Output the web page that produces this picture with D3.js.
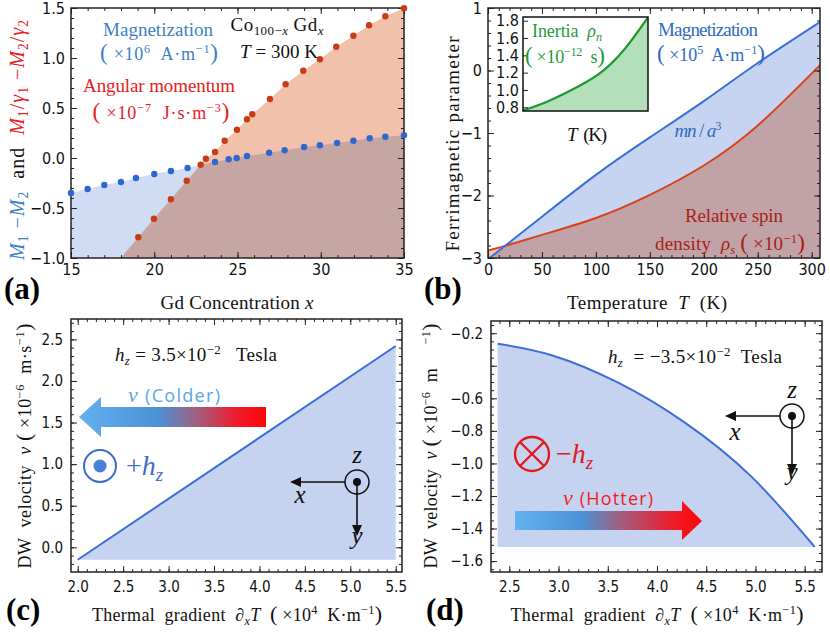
<!DOCTYPE html>
<html>
<head>
<meta charset="utf-8">
<script src="https://cdn.jsdelivr.net/npm/d3@7"></script>
<style>
  body { margin: 0; background: #fff; }
  svg { display: block; }
  text { font-family: "Liberation Serif", "Times New Roman", serif; }
</style>
</head>
<body>
<svg id="fig" width="830" height="632"></svg>
<script>
// ---- data ----
// (a) Co100-x Gdx at 300 K
const gdMagX = [15, 16, 17, 18, 18.9, 20, 21, 22, 23.65, 24.47, 24.95, 25.57, 26.9, 27.83, 29.0, 29.95, 30.98, 31.96, 32.94, 33.88, 35];
const gdMag  = [-0.35, -0.31, -0.27, -0.24, -0.20, -0.16, -0.13, -0.10, -0.04, -0.013, 0.0, 0.02, 0.053, 0.077, 0.11, 0.127, 0.15, 0.173, 0.197, 0.213, 0.227];
const gdAngX = [19.04, 19.98, 21.0, 21.95, 22.79, 23.1, 23.65, 24.23, 24.97, 25.57, 25.89, 26.95, 27.89, 28.95, 29.95, 30.93, 31.96, 32.9, 33.88, 35];
const gdAng  = [-0.793, -0.607, -0.413, -0.227, -0.067, -0.007, 0.06, 0.173, 0.283, 0.387, 0.437, 0.59, 0.737, 0.873, 0.987, 1.113, 1.223, 1.327, 1.417, 1.497];
// (b) ferrimagnetic parameters vs temperature
const magT  = [0, 50, 100, 150, 200, 250, 308];
const magB  = [-3.02, -2.34, -1.67, -1.07, -0.49, 0.12, 0.78];
const spinT = [0, 25, 50, 100, 150, 200, 250, 308];
const spinB = [-2.88, -2.76, -2.63, -2.36, -1.99, -1.52, -0.88, 0.09];
const inertiaT = [0, 62, 144, 197, 250, 308];
const inertia  = [0.765, 0.87, 1.06, 1.22, 1.47, 1.84];
// (c) DW velocity, +hz
const gradC = [2.0, 5.5];
const velC  = [-0.15, 2.42];
// (d) DW velocity, -hz
const gradD = [2.382, 2.93, 3.606, 4.283, 4.959, 5.602];
const velD  = [-0.265, -0.335, -0.504, -0.749, -1.081, -1.513];
// tick labels
const aXTicks = [15, 20, 25, 30, 35];
const aYTicks = [-1, -0.5, 0, 0.5, 1, 1.5];
const bXTicks = [0, 50, 100, 150, 200, 250, 300];
const bYTicks = [-3, -2, -1, 0, 1];
const inYTicks = [0.8, 1.0, 1.2, 1.4, 1.6, 1.8];
const cXTicks = [2.0, 2.5, 3.0, 3.5, 4.0, 4.5, 5.0, 5.5];
const cYTicks = [0.0, 0.5, 1.0, 1.5, 2.0, 2.5];
const dXTicks = [2.5, 3.0, 3.5, 4.0, 4.5, 5.0, 5.5];
const dYMajor = [-1.6, -1.4, -1.2, -1.0, -0.8, -0.6, -0.4, -0.2];
const dYTicks = [-1.6, -1.4, -1.2, -1.0, -0.8, -0.6, -0.2];

const TICKF = '"DejaVu Sans Condensed", "DejaVu Sans", sans-serif';
const svg = d3.select("#fig");
const defs = svg.append("defs");

// steps for minor ticks
function steps(a, b, s) {
    let out = [];
    for (let v = a; v <= b + 1e-9; v += s) out.push(+v.toFixed(4));
    return out;
}

function clipFor(id, x, y) {
    defs.append("clipPath").attr("id", id).append("rect")
        .attr("x", x.range()[0]).attr("y", y.range()[1])
        .attr("width", x.range()[1] - x.range()[0])
        .attr("height", y.range()[0] - y.range()[1]);
}

// frame with inward ticks on all four sides (Mathematica style)
function frame(g, x, y, o) {
    const [xa, xb] = x.range(), [yb, ya] = y.range();
    const put = (axis, tr) => g.append("g").attr("transform", tr).call(axis).call(s => {
        s.select(".domain").remove();
        s.attr("font-family", null).attr("font-size", null);
        s.selectAll("line").attr("stroke", "#222").attr("stroke-width", 1);
        s.selectAll("text").attr("fill", "#111").style("font-family", TICKF)
            .style("font-stretch", "condensed").attr("font-size", o.fs);
    });
    const none = () => "";
    put(d3.axisBottom(x).tickValues(o.xMinor).tickSize(-3).tickFormat(none), `translate(0,${yb})`);
    put(d3.axisTop(x).tickValues(o.xMinor).tickSize(-3).tickFormat(none), `translate(0,${ya})`);
    put(d3.axisLeft(y).tickValues(o.yMinor).tickSize(-3).tickFormat(none), `translate(${xa},0)`);
    put(d3.axisRight(y).tickValues(o.yMinor).tickSize(-3).tickFormat(none), `translate(${xb},0)`);
    put(d3.axisBottom(x).tickValues(o.xMajor).tickSize(-6).tickPadding(o.xPad).tickFormat(o.xFmt), `translate(0,${yb})`);
    put(d3.axisTop(x).tickValues(o.xMajor).tickSize(-6).tickFormat(none), `translate(0,${ya})`);
    put(d3.axisLeft(y).tickValues(o.yMajor).tickSize(-6).tickPadding(o.yPad).tickFormat(o.yFmt), `translate(${xa},0)`);
    put(d3.axisRight(y).tickValues(o.yMajor).tickSize(-6).tickFormat(none), `translate(${xb},0)`);
    g.append("rect").attr("x", xa).attr("y", ya).attr("width", xb - xa).attr("height", yb - ya)
        .attr("fill", "none").attr("stroke", "#222").attr("stroke-width", 1.5);
}

// text built from pieces: italic, sub, sup, colour
function rich(g, x, y, parts, o = {}) {
    const fs = o.fs || 18;
    const t = g.append("text").attr("x", x).attr("y", y).attr("font-size", fs)
        .attr("fill", o.fill || "#111").attr("text-anchor", o.anchor || "start")
        .attr("xml:space", "preserve").style("white-space", "pre");
    if (o.rot) t.attr("transform", `rotate(-90,${x},${y})`);
    if (o.family) t.style("font-family", o.family);
    parts.forEach(p => {
        if (typeof p === "string") p = { t: p };
        const s = t.append("tspan").text(p.t);
        if (p.i) s.attr("font-style", "italic");
        if (p.b) s.attr("font-weight", "bold");
        if (p.c) s.attr("fill", p.c);
        if (p.f) s.style("font-family", p.f);
        if (p.fs) s.attr("font-size", p.fs);
        if (p.sub) s.attr("baseline-shift", -0.22 * fs).attr("font-size", fs * 0.68);
        if (p.sup) s.attr("baseline-shift", 0.38 * fs).attr("font-size", fs * 0.68);
    });
    // stretch the spacing to the width measured on the figure
    if (o.len) t.attr("textLength", o.len).attr("lengthAdjust", "spacing");
    return t;
}

function panelLabel(x, y, s) {
    svg.append("text").attr("x", x).attr("y", y).attr("font-size", 31)
        .attr("font-weight", "bold").text(s);
}

// small coordinate triad (z out of page)
function triad(g, cx, cy, left, down, lab) {
    const k = "#111";
    g.append("line").attr("x1", cx - 12).attr("y1", cy).attr("x2", left + 9).attr("y2", cy)
        .attr("stroke", k).attr("stroke-width", 1.6);
    g.append("path").attr("d", `M${left},${cy} L${left + 11},${cy - 5} L${left + 11},${cy + 5} Z`).attr("fill", k);
    g.append("line").attr("x1", cx).attr("y1", cy).attr("x2", cx).attr("y2", down - 9)
        .attr("stroke", k).attr("stroke-width", 1.6);
    g.append("path").attr("d", `M${cx},${down} L${cx - 5},${down - 11} L${cx + 5},${down - 11} Z`).attr("fill", k);
    g.append("circle").attr("cx", cx).attr("cy", cy).attr("r", 12).attr("fill", "none")
        .attr("stroke", k).attr("stroke-width", 1.5);
    g.append("circle").attr("cx", cx).attr("cy", cy).attr("r", 4).attr("fill", k);
    const it = (x, y, s) => g.append("text").attr("x", x).attr("y", y).attr("font-size", 25)
        .attr("font-style", "italic").attr("text-anchor", "middle").attr("fill", k).text(s);
    it(cx, lab.z, "z");
    it(left + 10, lab.x, "x");
    it(cx, lab.y, "y");
}

function gradient(id, x1, x2, stops) {
    const lg = defs.append("linearGradient").attr("id", id).attr("gradientUnits", "userSpaceOnUse")
        .attr("x1", x1).attr("x2", x2).attr("y1", 0).attr("y2", 0);
    stops.forEach(s => lg.append("stop").attr("offset", s[0]).attr("stop-color", s[1]));
}

const smooth = d3.curveNatural;

// ================= (a) =================
{
    const x = d3.scaleLinear([15, 35], [71, 404]);
    const y = d3.scaleLinear([-1, 1.5], [258, 8]);
    clipFor("clipA", x, y);
    const g = svg.append("g");
    const plot = g.append("g").attr("clip-path", "url(#clipA)");

    const mag = gdMagX.map((v, i) => [v, gdMag[i]]);
    const ang = gdAngX.map((v, i) => [v, gdAng[i]]);
    // extend the first angular-momentum segment down to the frame bottom
    const s0 = (ang[1][1] - ang[0][1]) / (ang[1][0] - ang[0][0]);
    const angFill = [[ang[0][0] - (ang[0][1] - y.domain()[0]) / s0, y.domain()[0]], ...ang];

    const area = d3.area().x(d => x(d[0])).y0(y(y.domain()[0])).y1(d => y(d[1]));
    plot.append("path").attr("d", area(angFill)).attr("fill", "#f2c1ab");
    plot.append("path").attr("d", area(mag)).attr("fill", "#d0dcf3").style("mix-blend-mode", "multiply");

    frame(g, x, y, {
        xMajor: aXTicks, xMinor: steps(15, 35, 1), yMajor: aYTicks, yMinor: steps(-1, 1.5, 0.1),
        xFmt: d3.format("d"), yFmt: d3.format(".1f"), xPad: 6, yPad: 6, fs: 16
    });

    g.selectAll(".dm").data(mag).join("circle")
        .attr("cx", d => x(d[0])).attr("cy", d => y(d[1])).attr("r", 3.2).attr("fill", "#2f67d2");
    g.selectAll(".da").data(ang).join("circle")
        .attr("cx", d => x(d[0])).attr("cy", d => y(d[1])).attr("r", 3.2).attr("fill", "#c93c12");

    const B = "#3b82c4", R = "#e8201c";
    rich(g, 158, 36, ["Magnetization"], { fill: B, fs: 19, anchor: "middle", len: 110 });
    rich(g, 159, 60, [{ t: "(", fs: 23 }, " ×10", { t: "6", sup: 1 }, "  A·m", { t: "−1", sup: 1 }, { t: ")", fs: 23 }], { fill: B, fs: 18, anchor: "middle", len: 118 });
    rich(g, 159, 92, ["Angular momentum"], { fill: R, fs: 19, anchor: "middle", len: 152 });
    rich(g, 161, 119, [{ t: "(", fs: 23 }, " ×10", { t: "−7", sup: 1 }, "  J·s·m", { t: "−3", sup: 1 }, { t: ")", fs: 23 }], { fill: R, fs: 18, anchor: "middle", len: 137 });
    rich(g, 277, 31, ["Co", { t: "100−", sub: 1 }, { t: "x", sub: 1, i: 1 }, " Gd", { t: "x", sub: 1, i: 1 }], { fs: 19, anchor: "middle", len: 93 });
    rich(g, 279, 58, [{ t: "T", i: 1 }, " = 300 K"], { fs: 19, anchor: "middle", len: 78 });

    rich(g, 24, 140, [
        { t: "M", i: 1, c: B }, { t: "1", sub: 1, c: B }, { t: " −", c: B }, { t: "M", i: 1, c: B }, { t: "2", sub: 1, c: B },
        { t: "  and  " },
        { t: "M", i: 1, c: R }, { t: "1", sub: 1, c: R }, { t: "/", c: R }, { t: "γ", i: 1, c: R }, { t: "1", sub: 1, c: R },
        { t: " −", c: R }, { t: "M", i: 1, c: R }, { t: "2", sub: 1, c: R }, { t: "/", c: R }, { t: "γ", i: 1, c: R }, { t: "2", sub: 1, c: R }
    ], { fs: 20, anchor: "middle", rot: true, len: 240 });
    rich(g, 237, 309, ["Gd Concentration ", { t: "x", i: 1 }], { fs: 19, anchor: "middle", len: 153 });
    panelLabel(4, 299, "(a)");
}

// ================= (b) =================
{
    const x = d3.scaleLinear([0, 307.7], [488, 820]);
    const y = d3.scaleLinear([-3, 1], [258, 8]);
    clipFor("clipB", x, y);
    const g = svg.append("g");
    const plot = g.append("g").attr("clip-path", "url(#clipB)");

    const mag = magT.map((v, i) => [v, magB[i]]);
    const spin = spinT.map((v, i) => [v, spinB[i]]);
    const area = d3.area().curve(smooth).x(d => x(d[0])).y0(y(-3)).y1(d => y(d[1]));
    const line = d3.line().curve(smooth).x(d => x(d[0])).y(d => y(d[1]));
    plot.append("path").attr("d", area(spin)).attr("fill", "#f9c3b0");
    plot.append("path").attr("d", area(mag)).attr("fill", "#c6d4f1").style("mix-blend-mode", "multiply");
    plot.append("path").attr("d", line(spin)).attr("fill", "none").attr("stroke", "#d8431a").attr("stroke-width", 2);
    plot.append("path").attr("d", line(mag)).attr("fill", "none").attr("stroke", "#3a6fd8").attr("stroke-width", 2);

    frame(g, x, y, {
        xMajor: bXTicks, xMinor: steps(0, 300, 10), yMajor: bYTicks, yMinor: steps(-3, 1, 0.2),
        xFmt: d3.format("d"), yFmt: d3.format("d"), xPad: 6, yPad: 6, fs: 16
    });

    // inset: inertia
    const ix = d3.scaleLinear([0, 308], [523, 648]);
    const iy = d3.scaleLinear([0.757, 1.843], [111, 17]);
    clipFor("clipI", ix, iy);
    g.append("rect").attr("x", 523).attr("y", 17).attr("width", 125).attr("height", 94).attr("fill", "#fff");
    const ip = g.append("g").attr("clip-path", "url(#clipI)");
    const inr = inertiaT.map((v, i) => [v, inertia[i]]);
    ip.append("path").attr("d", d3.area().curve(smooth).x(d => ix(d[0])).y0(iy(0.757)).y1(d => iy(d[1]))(inr))
        .attr("fill", "#b4dfbb");
    ip.append("path").attr("d", d3.line().curve(smooth).x(d => ix(d[0])).y(d => iy(d[1]))(inr))
        .attr("fill", "none").attr("stroke", "#1d9a2e").attr("stroke-width", 2.2);
    g.append("g").attr("transform", "translate(523,0)")
        .call(d3.axisLeft(iy).tickValues(inYTicks).tickSize(-5).tickPadding(4).tickFormat(d3.format(".1f")))
        .call(s => {
            s.select(".domain").remove();
            s.attr("font-family", null).attr("font-size", null);
            s.selectAll("line").attr("stroke", "#222");
            s.selectAll("text").attr("fill", "#111").style("font-family", TICKF)
                .style("font-stretch", "condensed").attr("font-size", 16);
        });
    g.append("rect").attr("x", 523).attr("y", 17).attr("width", 125).attr("height", 94)
        .attr("fill", "none").attr("stroke", "#111").attr("stroke-width", 1.5);

    const Gc = "#1f9a3c", Bc = "#2e6bc1", Rc = "#a81e18";
    rich(g, 567, 37, ["Inertia  ", { t: "ρ", i: 1 }, { t: "n", sub: 1, i: 1 }], { fill: Gc, fs: 18, anchor: "middle", len: 70 });
    rich(g, 565, 63, [{ t: "(", fs: 23 }, " ×10", { t: "−12", sup: 1 }, "  s", { t: ")", fs: 23 }], { fill: Gc, fs: 18, anchor: "middle", len: 80 });
    rich(g, 587, 141, [{ t: "T", i: 1 }, "  (K)"], { fs: 19, anchor: "middle", len: 40 });
    rich(g, 708, 36, ["Magnetization"], { fill: Bc, fs: 19, anchor: "middle", len: 100 });
    rich(g, 711, 61, [{ t: "(", fs: 23 }, " ×10", { t: "5", sup: 1 }, "  A·m", { t: "−1", sup: 1 }, { t: ")", fs: 23 }], { fill: Bc, fs: 18, anchor: "middle", len: 108 });
    rich(g, 698, 137, [{ t: "mn", i: 1 }, " / ", { t: "a", i: 1 }, { t: "3", sup: 1 }], { fill: Bc, fs: 19, anchor: "middle", len: 47 });
    rich(g, 734, 222, ["Relative spin"], { fill: Rc, fs: 19, anchor: "middle", len: 98 });
    rich(g, 730, 250, ["density  ", { t: "ρ", i: 1 }, { t: "s", sub: 1, i: 1 }, " ", { t: "(", fs: 23 }, " ×10", { t: "−1", sup: 1 }, { t: ")", fs: 23 }], { fill: Rc, fs: 19, anchor: "middle", len: 150 });

    rich(g, 459, 144, ["Ferrimagnetic parameter"], { fs: 19, anchor: "middle", rot: true, len: 215 });
    rich(g, 647, 309, ["Temperature  ", { t: "T", i: 1 }, "  (K)"], { fs: 19, anchor: "middle", len: 160 });
    panelLabel(424, 299, "(b)");
}

// ================= (c) =================
{
    const x = d3.scaleLinear([1.926, 5.569], [71, 402]);
    const y = d3.scaleLinear([-0.297, 2.745], [572, 319]);
    clipFor("clipC", x, y);
    const g = svg.append("g");
    const plot = g.append("g").attr("clip-path", "url(#clipC)");
    const pts = gradC.map((v, i) => [v, velC[i]]);
    const base = d3.min(velC);
    plot.append("path").attr("d", d3.area().x(d => x(d[0])).y0(y(base)).y1(d => y(d[1]))(pts)).attr("fill", "#c5d3f0");
    plot.append("path").attr("d", d3.line().x(d => x(d[0])).y(d => y(d[1]))(pts))
        .attr("fill", "none").attr("stroke", "#3b6fd6").attr("stroke-width", 2);

    frame(g, x, y, {
        xMajor: cXTicks, xMinor: steps(2.0, 5.5, 0.1), yMajor: cYTicks, yMinor: steps(-0.2, 2.7, 0.1),
        xFmt: d3.format(".1f"), yFmt: d3.format(".1f"), xPad: 9, yPad: 8, fs: 15
    });

    rich(g, 115, 361, [{ t: "h", i: 1 }, { t: "z", sub: 1, i: 1 }, " = 3.5×10", { t: "−2", sup: 1 }, "   Tesla"], { fs: 19, len: 162 });

    gradient("gC", 79, 266, [[0, "#64b1ef"], [0.42, "#4a92d6"], [0.62, "#9c6284"], [0.84, "#ee1c2c"], [1, "#ff0505"]]);
    g.append("path").attr("d", "M79,417 L101,397 L101,407 L266,407 L266,427 L101,427 L101,437 Z").attr("fill", "url(#gC)");
    rich(g, 128, 402, [{ t: "v", i: 1, fs: 22 }, { t: " (Colder)", f: '"Open Sans", sans-serif' }], { fill: "#5aa6e2", fs: 18, len: 92 });

    g.append("circle").attr("cx", 100).attr("cy", 466).attr("r", 16).attr("fill", "none").attr("stroke", "#3e6cc8").attr("stroke-width", 2);
    g.append("circle").attr("cx", 100).attr("cy", 466).attr("r", 6.5).attr("fill", "#4a7fd6");
    rich(g, 126, 475, ["+", { t: "h", i: 1 }, { t: "z", sub: 1, i: 1 }], { fill: "#3f6cc9", fs: 28 });

    triad(g, 357, 482, 290, 536, { z: 463, x: 503, y: 544 });

    rich(g, 31, 446, ["DW  velocity  ", { t: "v", i: 1 }, " ", { t: "(", fs: 22 }, " ×10", { t: "−6", sup: 1 }, "  m·s", { t: "−1", sup: 1 }, { t: ")", fs: 22 }], { fs: 18, anchor: "middle", rot: true, len: 245 });
    rich(g, 237, 621, ["Thermal  gradient  ∂", { t: "x", sub: 1, i: 1 }, { t: "T", i: 1 }, "  ", { t: "(", fs: 22 }, " ×10", { t: "4", sup: 1 }, "  K·m", { t: "−1", sup: 1 }, { t: ")", fs: 22 }], { fs: 18, anchor: "middle", len: 290 });
    panelLabel(6, 620, "(c)");
}

// ================= (d) =================
{
    const x = d3.scaleLinear([2.314, 5.676], [491, 822]);
    const y = d3.scaleLinear([-1.667, -0.125], [572, 321]);
    clipFor("clipD", x, y);
    const g = svg.append("g");
    const plot = g.append("g").attr("clip-path", "url(#clipD)");
    const pts = gradD.map((v, i) => [v, velD[i]]);
    const base = d3.min(velD);
    plot.append("path").attr("d", d3.area().curve(smooth).x(d => x(d[0])).y0(y(base)).y1(d => y(d[1]))(pts)).attr("fill", "#c5d3f0");
    plot.append("path").attr("d", d3.line().curve(smooth).x(d => x(d[0])).y(d => y(d[1]))(pts))
        .attr("fill", "none").attr("stroke", "#3b6fd6").attr("stroke-width", 2);

    const f1 = d3.format(".1f");
    frame(g, x, y, {
        xMajor: dXTicks, xMinor: steps(2.4, 5.6, 0.1), yMajor: dYMajor, yMinor: steps(-1.65, -0.15, 0.05),
        xFmt: f1, yFmt: d => dYTicks.some(v => Math.abs(v - d) < 1e-9) ? f1(d) : "", xPad: 9, yPad: 8, fs: 15
    });

    rich(g, 608, 363, [{ t: "h", i: 1 }, { t: "z", sub: 1, i: 1 }, "  = −3.5×10", { t: "−2", sup: 1 }, "  Tesla"], { fs: 19, len: 174 });

    // field into the page
    const r = 17, cx = 532, cy = 454, q = r * Math.SQRT1_2;
    g.append("circle").attr("cx", cx).attr("cy", cy).attr("r", r).attr("fill", "none").attr("stroke", "#e3191c").attr("stroke-width", 2.4);
    g.append("path").attr("d", `M${cx - q},${cy - q} L${cx + q},${cy + q} M${cx + q},${cy - q} L${cx - q},${cy + q}`)
        .attr("stroke", "#e3191c").attr("stroke-width", 2.4);
    rich(g, 556, 463, ["−", { t: "h", i: 1 }, { t: "z", sub: 1, i: 1 }], { fill: "#e3191c", fs: 28 });

    gradient("gD", 515, 702, [[0, "#64b1ef"], [0.36, "#4a92d6"], [0.55, "#9c6284"], [0.84, "#ee1c2c"], [1, "#ff0505"]]);
    g.append("path").attr("d", "M515,511 L682,511 L682,501 L702,521 L682,540 L682,530 L515,530 Z").attr("fill", "url(#gD)");
    rich(g, 563, 505, [{ t: "v", i: 1, fs: 22 }, { t: " (Hotter)", f: '"Open Sans", sans-serif' }], { fill: "#f01c1c", fs: 18, len: 90 });

    triad(g, 792, 416, 725, 475, { z: 398, x: 440, y: 480 });

    rich(g, 437, 446, ["DW  velocity  ", { t: "v", i: 1 }, " ", { t: "(", fs: 22 }, " ×10", { t: "−6", sup: 1 }, "  m     ", { t: "−1", sup: 1 }, { t: ")", fs: 22 }], { fs: 18, anchor: "middle", rot: true, len: 245 });
    rich(g, 657, 621, ["Thermal  gradient  ∂", { t: "x", sub: 1, i: 1 }, { t: "T", i: 1 }, "  ", { t: "(", fs: 22 }, " ×10", { t: "4", sup: 1 }, "  K·m", { t: "−1", sup: 1 }, { t: ")", fs: 22 }], { fs: 18, anchor: "middle", len: 293 });
    panelLabel(426, 620, "(d)");
}
</script>
</body>
</html>
